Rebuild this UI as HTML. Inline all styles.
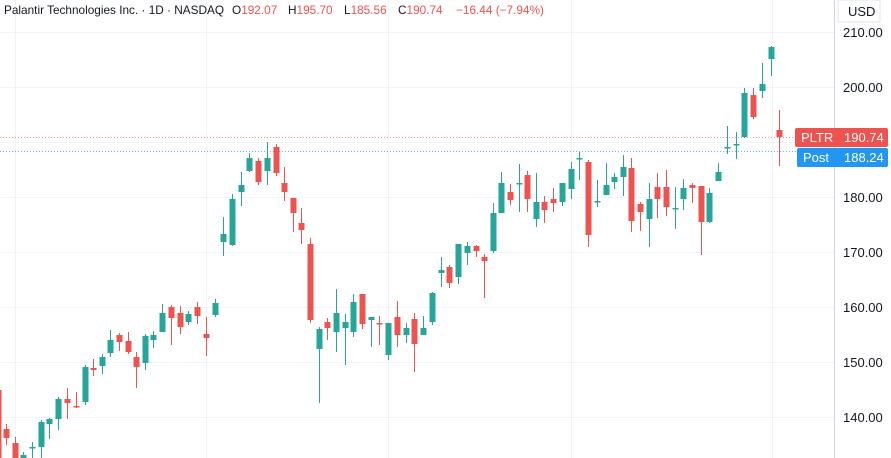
<!DOCTYPE html>
<html><head><meta charset="utf-8"><style>
html,body{margin:0;padding:0;background:#fff;width:891px;height:458px;overflow:hidden;font-family:"Liberation Sans",sans-serif}
svg{position:absolute;left:0;top:0}
</style></head><body>
<svg id="s" width="891" height="458" xmlns="http://www.w3.org/2000/svg">
<g stroke="#f0f3fa" stroke-width="1">
<line x1="0" y1="32.5" x2="834" y2="32.5"/><line x1="0" y1="87.5" x2="834" y2="87.5"/>
<line x1="0" y1="142.5" x2="834" y2="142.5"/><line x1="0" y1="197.5" x2="834" y2="197.5"/>
<line x1="0" y1="252.5" x2="834" y2="252.5"/><line x1="0" y1="307.5" x2="834" y2="307.5"/>
<line x1="0" y1="362.5" x2="834" y2="362.5"/><line x1="0" y1="417.5" x2="834" y2="417.5"/>
<line x1="15.5" y1="0" x2="15.5" y2="458"/><line x1="206.5" y1="0" x2="206.5" y2="458"/>
<line x1="388.5" y1="0" x2="388.5" y2="458"/><line x1="571.5" y1="0" x2="571.5" y2="458"/>
<line x1="772.5" y1="0" x2="772.5" y2="458"/>
</g>
<line x1="0" y1="137.5" x2="834" y2="137.5" stroke="#ef9a9a" stroke-width="1" stroke-dasharray="1,2"/>
<line x1="0" y1="151.5" x2="834" y2="151.5" stroke="#64b5f6" stroke-width="1" stroke-dasharray="1,2"/>
<g id="c"></g>
<line x1="834.5" y1="0" x2="834.5" y2="458" stroke="#d1d4dc"/>
<g font-size="13" fill="#131722" font-family="Liberation Sans, sans-serif">
<text x="843" y="37">210.00</text><text x="843" y="92">200.00</text>
<text x="843" y="202">180.00</text><text x="843" y="257">170.00</text>
<text x="843" y="312">160.00</text><text x="843" y="367">150.00</text>
<text x="843" y="422">140.00</text>
</g>
<rect x="838" y="0" width="42" height="22" fill="#fff" stroke="#e0e3eb"/>
<text x="848" y="16" font-size="13" fill="#131722">USD</text>
<rect x="795" y="128" width="93" height="19" rx="2" fill="#ef5350"/>
<text x="801" y="142" font-size="13" fill="#fff">PLTR</text><text x="844" y="142" font-size="13" fill="#fff">190.74</text>
<rect x="797" y="148" width="91" height="19" rx="2" fill="#2196f3"/>
<text x="803" y="162" font-size="13" fill="#fff">Post</text><text x="844" y="162" font-size="13" fill="#fff">188.24</text>
<g font-size="11.8" fill="#131722">
<text x="4" y="14">Palantir Technologies Inc. · 1D · NASDAQ</text>
<text x="232" y="14">O<tspan fill="#ef5350">192.07</tspan></text>
<text x="288" y="14">H<tspan fill="#ef5350">195.70</tspan></text>
<text x="344" y="14">L<tspan fill="#ef5350">185.56</tspan></text>
<text x="398" y="14">C<tspan fill="#ef5350">190.74</tspan></text>
<text x="456" y="14" fill="#ef5350">−16.44 (−7.94%)</text>
</g>
</svg>
<script>
var d=[
[-2,390,458,385,458,'r'],[6,429,438,424,445,'r'],[15,443,460,437,460,'r'],[23,455,460,452,460,'g'],[32,447,447,442,460,'g'],
[41,422,447,420,460,'g'],[49,419,424,418,439,'g'],[58,399,419,397,430,'g'],[67,399,403,388,419,'r'],[76,406,406,392,408,'r'],
[85,367,402,365,405,'g'],[93,368,370,359,376,'r'],[102,357,366,354,374,'g'],[110,340,353,330,357,'g'],[119,335,342,333,351,'r'],
[128,341,352,332,354,'r'],[136,357,367,352,388,'r'],[145,336,363,334,370,'g'],[153,335,340,331,348,'g'],[162,313,332,304,332,'g'],
[171,307,318,305,345,'r'],[180,313,327,306,334,'r'],[188,314,322,311,325,'g'],[197,307,316,302,324,'r'],[206,334,338,317,356,'r'],
[215,303,315,299,317,'g'],[223,234,242,217,256,'g'],[232,199,245,194,246,'g'],[241,185,192,172,206,'g'],[249,158,171,153,172,'g'],
[258,161,182,158,185,'r'],[267,158,171,142,185,'g'],[276,147,173,144,176,'r'],[284,183,192,167,201,'r'],[293,198,213,198,232,'r'],
[301,223,230,208,244,'r'],[310,244,320,238,323,'r'],[319,329,349,327,403,'g'],[327,322,328,318,340,'r'],[336,313,332,289,352,'g'],
[345,322,328,314,365,'g'],[353,302,332,294,337,'g'],[362,294,324,294,329,'r'],[371,317,320,317,347,'g'],[379,323,323,316,345,'r'],
[388,323,355,323,360,'g'],[397,317,335,301,347,'r'],[406,328,335,323,343,'g'],[414,319,344,313,372,'r'],[423,328,335,316,335,'g'],
[432,293,322,292,325,'g'],[441,270,273,257,287,'g'],[449,267,283,265,288,'r'],[458,244,277,244,284,'g'],[467,246,253,242,265,'g'],
[476,246,251,245,257,'r'],[484,257,261,254,298,'r'],[493,213,251,203,253,'g'],[501,183,213,172,213,'g'],[510,192,200,184,205,'r'],
[519,183,183,164,212,'g'],[527,175,199,171,212,'r'],[536,202,219,173,227,'g'],[544,202,210,196,223,'r'],[553,199,203,188,212,'r'],
[562,183,202,183,206,'g'],[571,169,189,162,199,'g'],[579,158,158,152,180,'g'],[588,162,235,160,247,'r'],[597,201,201,180,207,'g'],
[606,185,195,163,195,'g'],[614,177,182,173,189,'g'],[623,167,177,155,196,'g'],[631,168,221,158,232,'r'],[640,204,212,202,231,'r'],
[649,199,219,183,247,'g'],[657,187,199,173,218,'r'],[666,187,207,170,216,'r'],[675,208,208,187,229,'g'],[683,188,199,179,210,'g'],
[692,185,188,183,203,'r'],[701,186,222,186,255,'r'],[709,193,222,188,223,'g'],[718,172,181,163,181,'g'],[727,147,147,126,154,'g'],
[736,144,144,132,159,'g'],[744,93,137,88,138,'g'],[753,95,117,88,119,'r'],[762,84,91,63,98,'g'],[771,47,59,46,76,'g'],
[779,130,137,110,166,'r']];
var g=document.getElementById('c'),h='';
d.forEach(function(a){var col=a[5]=='g'?'#26a69a':'#ef5350';var x=a[0];
h+='<line x1="'+(x+0.5)+'" y1="'+a[3]+'" x2="'+(x+0.5)+'" y2="'+a[4]+'" stroke="'+col+'" stroke-width="1"/>';
var hh=Math.max(1.5,a[2]-a[1]);h+='<rect x="'+(x-2.5)+'" y="'+a[1]+'" width="6" height="'+hh+'" fill="'+col+'"/>';});
g.innerHTML=h;
</script>
</body></html>
